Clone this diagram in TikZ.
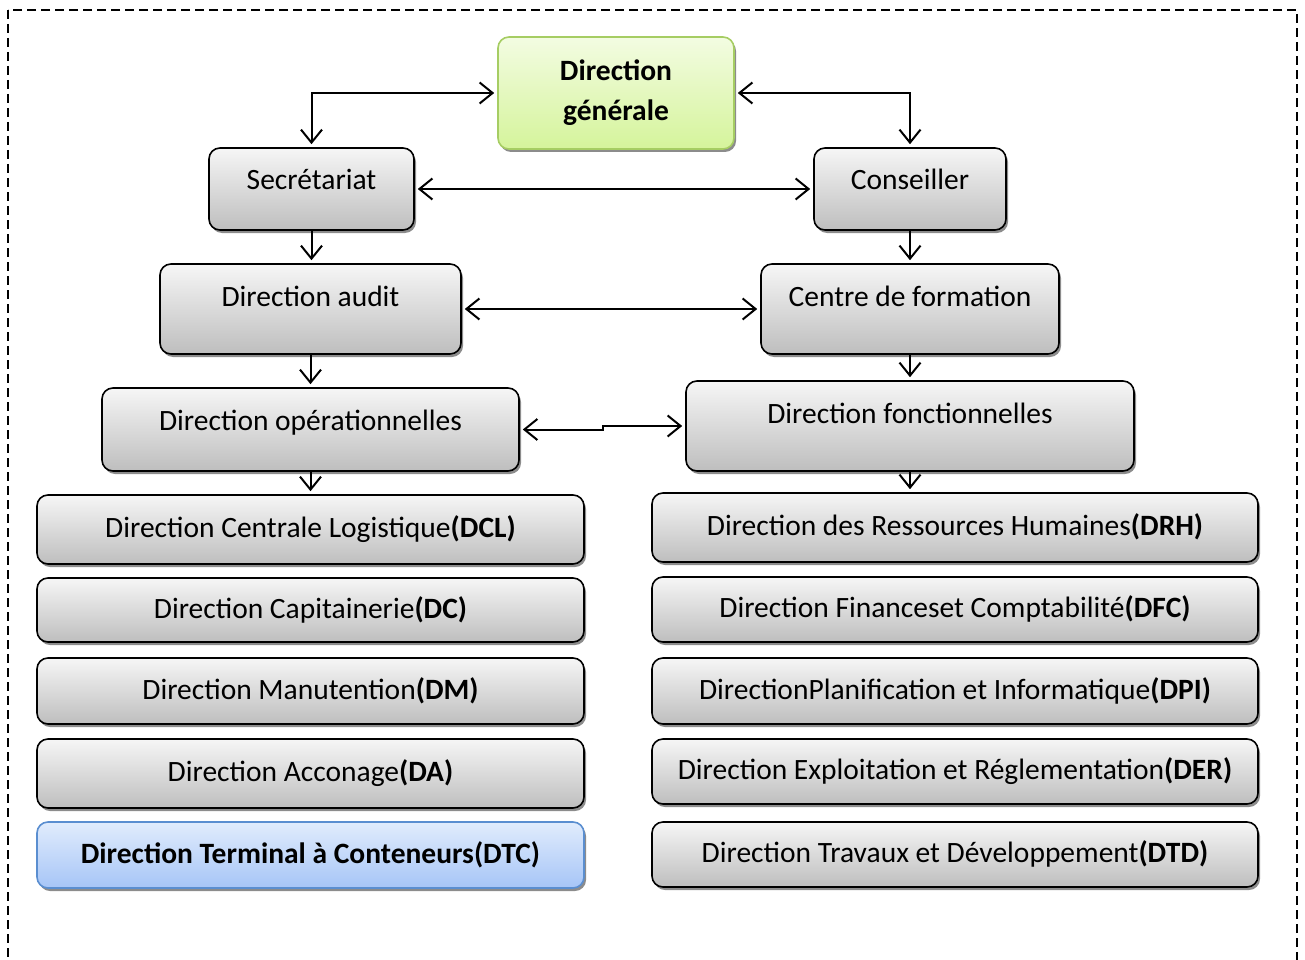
\documentclass[tikz,border=0pt]{standalone}
\usepackage{fontspec}
\setmainfont{Carlito}
\usetikzlibrary{arrows.meta,shadows}
\definecolor{boxtop}{HTML}{F6F6F6}
\definecolor{boxbot}{HTML}{BEBEBE}
\definecolor{gentop}{HTML}{F3FCE2}
\definecolor{genbot}{HTML}{D5F49B}
\definecolor{genline}{HTML}{A6CD63}
\definecolor{dtctop}{HTML}{E1ECFC}
\definecolor{dtcbot}{HTML}{A6C5F7}
\definecolor{dtcline}{HTML}{5A8ED0}
\tikzset{
  box/.style={draw=black, line width=1.6pt, rounded corners=11pt,
    top color=boxtop, bottom color=boxbot, inner sep=0pt, align=center,
    drop shadow={shadow xshift=2pt, shadow yshift=-3pt, fill=black!45, opacity=1},
    font=\fontsize{29.5}{35}\selectfont},
  lift/.style={text height=22pt, text depth=#1}, % pushes the text up
  lift/.default=6pt,
  link/.style={-{Straight Barb[length=13pt, width=21pt]}, line width=2pt, shorten >=3pt},
  both/.style={{Straight Barb[length=13pt, width=21pt]}-{Straight Barb[length=13pt, width=21pt]},
    line width=2pt, shorten >=3pt, shorten <=3pt},
  frame/.style={line width=1.6pt, dash pattern=on 9pt off 5pt}
}
\begin{document}
\begin{tikzpicture}[x=1pt, y=-1pt]
  \useasboundingbox (0,0) rectangle (1305,960);
  \draw[frame] (8,10) rectangle (1297,1010);

  % Top of the chart
  \node[box, top color=gentop, bottom color=genbot, draw=genline,
    minimum width=236pt, minimum height=112pt,
    font=\bfseries\fontsize{29.5}{40}\selectfont] (gen) at (616,93) {Direction\\générale};
  \node[box, lift=21pt, minimum width=205pt, minimum height=82pt] (sec) at (311.5,189) {Secrétariat};
  \node[box, lift=21pt, minimum width=192pt, minimum height=82pt] (cons) at (910,189) {Conseiller};
  \node[box, lift=27pt, minimum width=301pt, minimum height=90pt] (audit) at (310.5,309) {Direction audit};
  \node[box, lift=27pt, minimum width=298pt, minimum height=90pt] (centre) at (910,309) {Centre de formation};
  \node[box, lift=20pt, minimum width=417pt, minimum height=83pt] (oper) at (310.5,429.5) {Direction opérationnelles};
  \node[box, lift=27pt, minimum width=448pt, minimum height=90pt] (fonc) at (910,426) {Direction fonctionnelles};

  % Directions
  \foreach \id/\y/\h/\name/\abbr in {dcl/529.5/69/Direction Centrale Logistique/DCL,
      dc/610/64/Direction Capitainerie/DC, dm/691/66/Direction Manutention/DM,
      da/773.5/69/Direction Acconage/DA}
    \node[box, lift, minimum width=547pt, minimum height=\h pt] (\id) at (310.5,\y) {\name\textbf{(\abbr)}};
  \node[box, lift, top color=dtctop, bottom color=dtcbot, draw=dtcline,
    minimum width=547pt, minimum height=66pt, font=\bfseries\fontsize{29.5}{35}\selectfont] (dtc) at (310.5,855)
    {Direction Terminal à Conteneurs(DTC)};
  \foreach \id/\y/\h/\name/\abbr in {drh/527.5/69/Direction des Ressources Humaines/DRH,
      dfc/609.5/65/Direction Financeset Comptabilité/DFC,
      dpi/691/66/DirectionPlanification et Informatique/DPI,
      der/771.5/65/Direction Exploitation et Réglementation/DER,
      dtd/854.5/65/Direction Travaux et Développement/DTD}
    \node[box, lift, minimum width=606pt, minimum height=\h pt] (\id) at (955,\y) {\name\textbf{(\abbr)}};

  % Connectors
  \coordinate (jog) at (603,429.5);
  \draw[both] (gen.west) -| (sec.north);
  \draw[both] (gen.east) -| (cons.north);
  \draw[both] (sec.east) -- (cons.west);
  \draw[both] (audit.east) -- (centre.west);
  \draw[both] (oper.east) -| (jog) |- (fonc.west);
  \draw[link] (sec.south) -- (sec.south |- audit.north);
  \draw[link] (cons.south) -- (centre.north);
  \draw[link] (audit.south) -- (oper.north);
  \draw[link] (centre.south) -- (fonc.north);
  \draw[link] (oper.south) -- (dcl.north);
  \draw[link] (fonc.south) -- (fonc.south |- drh.north);
\end{tikzpicture}
\end{document}
